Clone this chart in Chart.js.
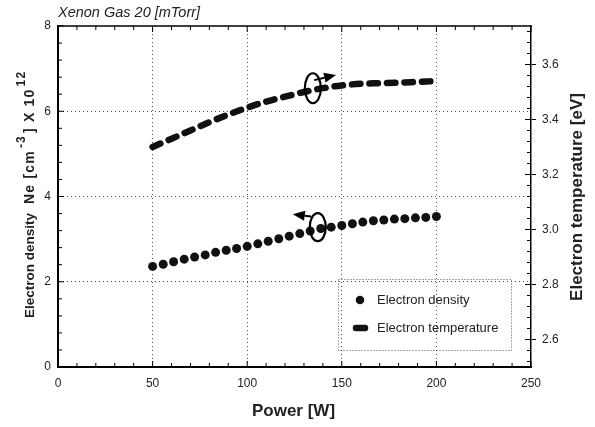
<!DOCTYPE html>
<html><head><meta charset="utf-8">
<script src="https://cdn.jsdelivr.net/npm/chart.js@4.4.1/dist/chart.umd.min.js"></script>
<style>html,body{margin:0;padding:0;background:#fff;}#wrap{width:595px;height:427px;position:relative;}</style>
</head><body><div id="wrap"><canvas id="c" width="595" height="427"></canvas></div>
<script>
const chartTitle = 'Xenon Gas 20 [mTorr]';
const xTitle = 'Power [W]';
const yLeftTitleMain = 'Electron density';
const yLeftTitleParts = [['Ne [cm', false], ['-3', true], ['] X 10', false], ['12', true]];
const yRightTitle = 'Electron temperature [eV]';
const seriesNames = ['Electron density', 'Electron temperature'];
const xTicks = [0, 50, 100, 150, 200, 250];
const yLeftTicks = [0, 2, 4, 6, 8];
const yRightTicks = [2.6, 2.8, 3.0, 3.2, 3.4, 3.6];

const densityPower = [50, 55.6, 61.1, 66.7, 72.2, 77.8, 83.3, 88.9, 94.4, 100, 105.6, 111.1, 116.7, 122.2,
  127.8, 133.3, 138.9, 144.4, 150, 155.6, 161.1, 166.7, 172.2, 177.8, 183.3, 188.9, 194.4, 200];
const density = [2.36, 2.41, 2.47, 2.53, 2.58, 2.63, 2.69, 2.74, 2.78, 2.83, 2.89, 2.95, 3.01, 3.07,
  3.13, 3.19, 3.25, 3.28, 3.32, 3.36, 3.40, 3.43, 3.45, 3.47, 3.48, 3.50, 3.51, 3.53];
const tempPower = [50, 60, 70, 80, 90, 100, 110, 120, 130, 140, 150, 160, 170, 180, 190, 200];
const temperature = [3.30, 3.33, 3.36, 3.39, 3.418, 3.443, 3.465, 3.483, 3.50, 3.514, 3.524, 3.530, 3.532, 3.534, 3.537, 3.54];

const FAM = "'Liberation Sans', Arial, Helvetica, sans-serif";
Chart.defaults.font.family = FAM;
Chart.defaults.color = '#222';

const gridColor = (ends) => (c) => (c.tick && ends.includes(c.tick.value)) ? 'rgba(0,0,0,0)' : 'rgba(0,0,0,0.7)';

const decor = {
  id: 'decor',
  afterDraw(chart) {
    const {ctx, chartArea: ca, scales: {x, y, y1}} = chart;
    ctx.save();
    ctx.strokeStyle = '#000';
    // top frame
    ctx.lineWidth = 1.5;
    ctx.beginPath(); ctx.moveTo(ca.left - 1, ca.top); ctx.lineTo(ca.right + 0.75, ca.top); ctx.stroke();
    // minor ticks (inward)
    ctx.lineWidth = 1;
    ctx.beginPath();
    for (let i = 0; i <= 25; i++) {
      const px = x.getPixelForValue(i * 10), L = i % 5 === 0 ? 6 : 4;
      ctx.moveTo(px, ca.bottom); ctx.lineTo(px, ca.bottom - L);
      ctx.moveTo(px, ca.top); ctx.lineTo(px, ca.top + L);
    }
    for (let i = 0; i <= 20; i++) {
      const py = y.getPixelForValue(i * 0.4), L = i % 5 === 0 ? 6 : 4;
      ctx.moveTo(ca.left, py); ctx.lineTo(ca.left + L, py);
    }
    for (let i = 0; i <= 30; i++) {
      const py = y1.getPixelForValue(2.52 + i * 0.04), L = (i - 2) % 5 === 0 ? 6 : 4;
      ctx.moveTo(ca.right, py); ctx.lineTo(ca.right - L, py);
    }
    ctx.stroke();

    // annotations: ellipses + arrows
    const ell = (xv, yv, rx, ry) => {
      ctx.beginPath(); ctx.lineWidth = 2.2;
      ctx.ellipse(x.getPixelForValue(xv), y.getPixelForValue(yv), rx, ry, 0, 0, Math.PI * 2); ctx.stroke();
    };
    const arrow = (x0, y0, x1, y1v) => {
      const ax = x.getPixelForValue(x0), ay = y.getPixelForValue(y0);
      const bx = x.getPixelForValue(x1), by = y.getPixelForValue(y1v);
      const a = Math.atan2(by - ay, bx - ax), H = 12, W = 5;
      ctx.lineWidth = 2;
      ctx.beginPath(); ctx.moveTo(ax, ay); ctx.lineTo(bx - H * Math.cos(a), by - H * Math.sin(a)); ctx.stroke();
      ctx.beginPath(); ctx.fillStyle = '#000';
      ctx.moveTo(bx, by);
      ctx.lineTo(bx - H * Math.cos(a) + W * Math.sin(a), by - H * Math.sin(a) - W * Math.cos(a));
      ctx.lineTo(bx - H * Math.cos(a) - W * Math.sin(a), by - H * Math.sin(a) + W * Math.cos(a));
      ctx.closePath(); ctx.fill();
    };
    ell(137.3, 3.28, 8, 14);
    arrow(133.8, 3.53, 124.1, 3.586);
    ell(134.7, 6.54, 8, 15);
    arrow(135.4, 6.73, 147, 6.85);

    // legend
    ctx.save();
    ctx.setLineDash([1, 2]); ctx.strokeStyle = '#555'; ctx.lineWidth = 1;
    ctx.strokeRect(338.5, 279.5, 173, 71);
    ctx.restore();
    ctx.fillStyle = '#111';
    ctx.beginPath(); ctx.arc(360, 300, 4.3, 0, Math.PI * 2); ctx.fill();
    ctx.save(); ctx.lineCap = 'round'; ctx.lineWidth = 6.5; ctx.strokeStyle = '#111';
    ctx.beginPath(); ctx.moveTo(356, 328); ctx.lineTo(365, 328); ctx.stroke(); ctx.restore();
    ctx.fillStyle = '#222'; ctx.font = '13px ' + FAM; ctx.textBaseline = 'middle'; ctx.textAlign = 'left';
    ctx.fillText(chart.data.datasets[0].label, 377, 300);
    ctx.fillText(chart.data.datasets[1].label, 377, 328);

    // chart title
    ctx.font = 'italic 14.5px ' + FAM; ctx.fillStyle = '#222';
    ctx.fillText(chartTitle, 58, 13);
    // x title
    ctx.font = 'bold 17px ' + FAM; ctx.textAlign = 'center';
    ctx.fillText(xTitle, 293.5, 411);
    // right title
    ctx.save(); ctx.translate(577, 197); ctx.rotate(-Math.PI / 2);
    ctx.font = 'bold 17px ' + FAM; ctx.fillText(yRightTitle, 0, 0); ctx.restore();
    // left title with superscripts
    ctx.save(); ctx.translate(30, 0); ctx.rotate(-Math.PI / 2);
    ctx.textAlign = 'left';
    let cx = -318;
    ctx.font = 'bold 13.5px ' + FAM; ctx.fillText(yLeftTitleMain, cx, 0);
    cx += ctx.measureText(yLeftTitleMain).width + 9;
    ctx.letterSpacing = '1.2px';
    for (const [t, sup] of yLeftTitleParts) {
      ctx.font = (sup ? 'bold 12px ' : 'bold 14px ') + FAM;
      ctx.fillText(t, cx, sup ? -8 : 0);
      cx += ctx.measureText(t).width + 2;
    }
    ctx.letterSpacing = '0px';
    ctx.restore();
    ctx.restore();
  }
};

new Chart(document.getElementById('c'), {
  type: 'line',
  data: {
    datasets: [
      { label: seriesNames[0], data: densityPower.map((p, i) => ({x: p, y: density[i]})), yAxisID: 'y',
        showLine: false, pointRadius: 4.5, pointHoverRadius: 4.5, pointBackgroundColor: '#111',
        pointBorderColor: '#111', pointBorderWidth: 0 },
      { label: seriesNames[1], data: tempPower.map((p, i) => ({x: p, y: temperature[i]})), yAxisID: 'y1',
        borderColor: '#111', borderWidth: 6.5, borderDash: [8.5, 9], borderCapStyle: 'round',
        pointRadius: 0, cubicInterpolationMode: 'monotone', fill: false }
    ]
  },
  options: {
    responsive: false, animation: false, devicePixelRatio: 1,
    layout: { padding: { top: 26, left: 0, right: 0, bottom: 0 } },
    plugins: { legend: { display: false }, tooltip: { enabled: false } },
    scales: {
      x: { type: 'linear', min: 0, max: 250,
        afterBuildTicks: s => { s.ticks = xTicks.map(v => ({value: v})); },
        afterFit: s => { s.height = 60; },
        grid: { color: gridColor([0, 250]), lineWidth: 1, drawTicks: false },
        border: { display: true, color: '#000', width: 2, dash: [1, 3] },
        ticks: { padding: 9, color: '#222', font: { size: 12 }, maxRotation: 0, autoSkip: false } },
      y: { type: 'linear', position: 'left', min: 0, max: 8,
        afterBuildTicks: s => { s.ticks = yLeftTicks.map(v => ({value: v})); },
        afterFit: s => { s.width = 58; },
        grid: { color: gridColor([0, 8]), lineWidth: 1, drawTicks: false },
        border: { display: true, color: '#000', width: 2, dash: [1, 3] },
        ticks: { padding: 7, color: '#222', font: { size: 12 } } },
      y1: { type: 'linear', position: 'right', min: 2.5, max: 3.74,
        afterBuildTicks: s => { s.ticks = yRightTicks.map(v => ({value: v})); },
        afterFit: s => { s.width = 64; },
        grid: { drawOnChartArea: false, drawTicks: true, tickLength: 5, tickColor: '#000', tickWidth: 1 },
        border: { display: true, color: '#000', width: 1.5 },
        ticks: { padding: 6, color: '#222', font: { size: 12 }, callback: v => v.toFixed(1) } }
    }
  },
  plugins: [decor]
});
</script></body></html>
